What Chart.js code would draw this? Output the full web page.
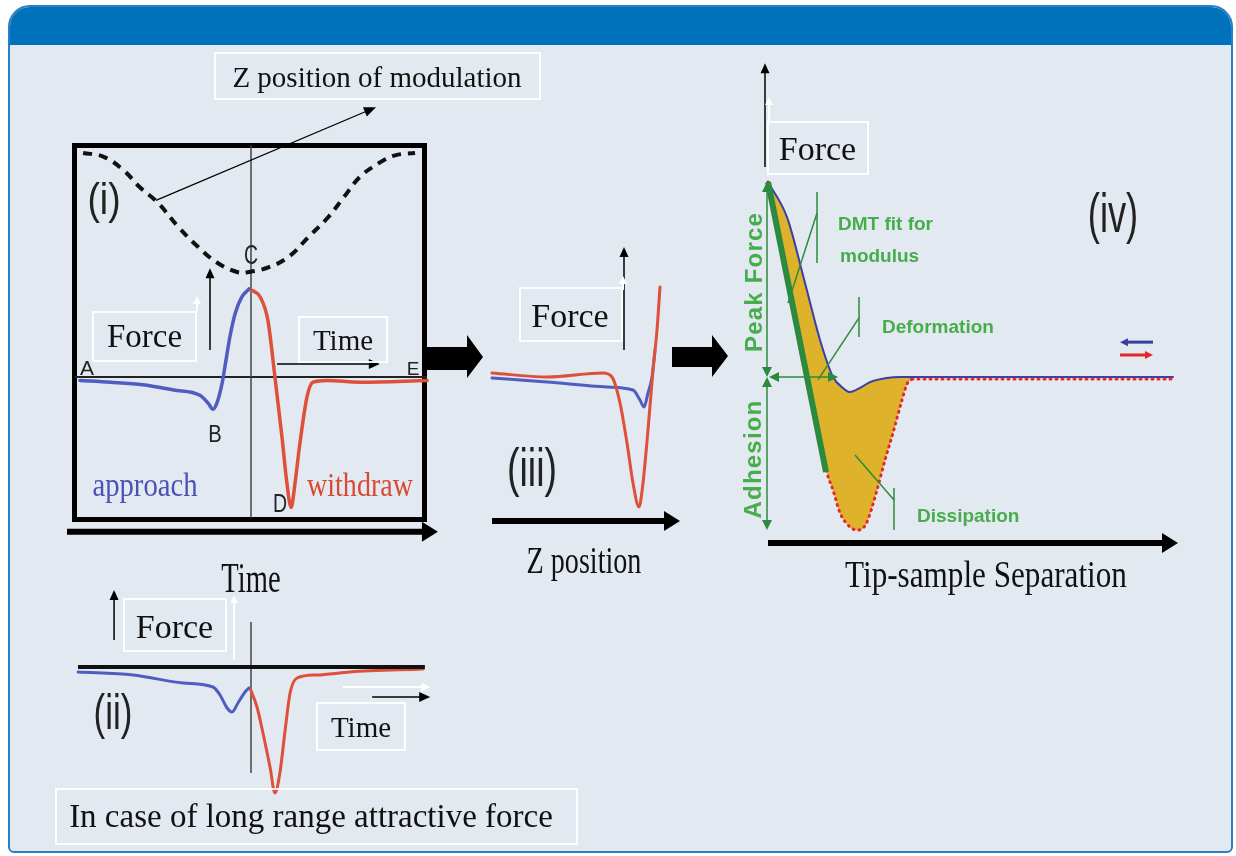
<!DOCTYPE html>
<html>
<head>
<meta charset="utf-8">
<script src="https://cdn.jsdelivr.net/npm/chart.js"></script>
<style>
  html, body { margin: 0; padding: 0; background: #fff; }
  body { width: 1236px; height: 856px; position: relative; overflow: hidden; }
  .card { position: absolute; left: 8px; top: 5px; width: 1225px; height: 848px; box-sizing: border-box;
          border: 2px solid #2b7fc4; border-radius: 22px 22px 6px 6px; background: #e3e9f0; overflow: hidden; }
  .card .head { height: 38px; background: #0071bb; }
  canvas { position: absolute; }
  .frame { position: absolute; left: 72px; top: 143px; width: 355px; height: 379px; box-sizing: border-box; border: 5px solid #000; }
  .box { position: absolute; box-sizing: border-box; border: 2px solid rgba(255,255,255,0.92); }
  .lbl { position: absolute; white-space: nowrap; line-height: 1; z-index: 5; }
  svg.blocks { position: absolute; left: 0; top: 0; }
</style>
</head>
<body>
<div class="card"><div class="head"></div></div>
<div class="frame"></div>
<canvas id="cycle" width="385" height="450" style="left:60px;top:95px"></canvas>
<canvas id="longRange" width="385" height="230" style="left:60px;top:580px"></canvas>
<canvas id="zCurve" width="230" height="300" style="left:470px;top:235px"></canvas>
<canvas id="separation" width="460" height="515" style="left:740px;top:45px"></canvas>
<svg class="blocks" width="1236" height="856">
  <polygon points="427,347 467,347 467,335 483,357 467,378 467,370 427,370" fill="#000"/>
  <polygon points="672,347 712,347 712,335 728,356 712,377 712,367 672,367" fill="#000"/>
</svg>
<script>
// (i) tapping cycle vs time: Z modulation and force
const zModTime = [2.3, 8.0, 13.6, 18.5, 23.6, 29.3, 35.0, 40.3, 46.0, 49.4, 55.1, 60.8, 66.2, 71.9, 76.4, 81.0, 86.6, 90.9, 96.6];
const zModPos  = [1.0, 0.97, 0.86, 0.71, 0.58, 0.38, 0.21, 0.08, 0.0, 0.0, 0.04, 0.13, 0.29, 0.46, 0.63, 0.80, 0.92, 0.98, 1.0];
const approachTime  = [1.4, 10, 19.3, 28, 35.5, 37.8, 39.2, 40.3, 41.8, 42.6, 44, 45.5, 47.4, 49.4];
const approachForce = [-0.04, -0.06, -0.09, -0.15, -0.21, -0.30, -0.37, -0.30, -0.07, 0.12, 0.46, 0.73, 0.92, 1.01];
const withdrawTime  = [49.4, 51.0, 52.6, 54.8, 56.8, 58.8, 60.2, 61.4, 62.5, 63.9, 65.9, 67.6, 71.6, 81, 100];
const withdrawForce = [1.01, 0.98, 0.92, 0.65, 0, -0.69, -1.22, -1.5, -1.22, -0.76, -0.23, -0.06, -0.04, -0.06, -0.04];

// (ii) long range attractive force
const lrApproachTime  = [0.9, 16.5, 30.7, 39.2, 41.2, 43.2, 44.6, 46.3, 48.3, 49.4];
const lrApproachForce = [-0.05, -0.08, -0.16, -0.20, -0.28, -0.41, -0.45, -0.36, -0.25, -0.21];
const lrWithdrawTime  = [49.7, 51.7, 53.4, 55.4, 56.8, 58.2, 59.7, 61.1, 63.1, 68.8, 78.1, 98.9];
const lrWithdrawForce = [-0.21, -0.40, -0.66, -1.0, -1.26, -1.06, -0.63, -0.26, -0.11, -0.08, -0.05, -0.02];

// (iii) force vs Z position
const zApproachPos   = [6, 33.5, 63.5, 76.5, 80, 82, 84, 86, 87.5];
const zApproachForce = [-0.01, -0.05, -0.10, -0.13, -0.23, -0.30, -0.16, 0.0, 0.27];
const zWithdrawPos   = [6, 33.5, 61.5, 66, 70, 73.5, 76.5, 79.5, 81.5, 84, 86.5, 88.5, 90];
const zWithdrawForce = [0.04, 0, 0.04, 0, -0.26, -0.66, -1.06, -1.30, -1.06, -0.53, 0.07, 0.47, 0.90];

// (iv) force vs tip-sample separation
const sepApproach      = [0, 1.9, 3.7, 5.2, 6.5, 7.5, 8.2, 9.2, 10.2, 11.9, 13.2, 40.5];
const sepApproachForce = [10, 8.2, 4.82, 1.9, 0, -0.56, -0.77, -0.56, -0.26, -0.05, 0, 0];
const sepWithdraw      = [0, 5.9, 6.5, 7.2, 8.2, 8.9, 9.8, 10.9, 11.7, 12.5, 13.4, 13.9, 14.4];
const sepWithdrawForce = [10, -4.92, -5.8, -6.97, -7.69, -7.85, -7.54, -5.8, -4.26, -2.87, -1.18, -0.36, -0.1];
const sepTail      = [14.4, 40.5];
const sepTailForce = [-0.1, -0.1];
const dmtSep   = [0, 5.8];
const dmtForce = [10, -4.87];

const blue = '#4f5cc0', red = '#de5039', green = '#2c8a3e', labelGreen = '#47ad4c';

function pts(xs, ys) { return xs.map((x, i) => ({ x: x, y: ys[i] })); }

function arrowHead(ctx, tx, ty, ux, uy, hl, hw) {
  ctx.beginPath();
  ctx.moveTo(tx, ty);
  ctx.lineTo(tx - ux * hl - uy * hw, ty - uy * hl + ux * hw);
  ctx.lineTo(tx - ux * hl + uy * hw, ty - uy * hl - ux * hw);
  ctx.closePath();
  ctx.fill();
}

function drawLines(chart, under) {
  const lines = chart.options.plugins.deco.lines || [];
  const ctx = chart.ctx;
  lines.forEach(l => {
    if (!!l.under !== under) return;
    const ys = chart.scales[l.axis || 'y'];
    const x1 = chart.scales.x.getPixelForValue(l.from[0]), y1 = ys.getPixelForValue(l.from[1]);
    const x2 = chart.scales.x.getPixelForValue(l.to[0]), y2 = ys.getPixelForValue(l.to[1]);
    const len = Math.hypot(x2 - x1, y2 - y1), ux = (x2 - x1) / len, uy = (y2 - y1) / len;
    const hl = l.hl || 10, hw = l.hw || 4.5, head = l.head || '';
    let sx = x1, sy = y1, ex = x2, ey = y2;
    if (head === 'end' || head === 'both') { ex -= ux * hl * 0.7; ey -= uy * hl * 0.7; }
    if (head === 'both') { sx += ux * hl * 0.7; sy += uy * hl * 0.7; }
    ctx.save();
    ctx.strokeStyle = l.color || '#000';
    ctx.fillStyle = l.color || '#000';
    ctx.lineWidth = l.width || 1.5;
    ctx.beginPath();
    ctx.moveTo(sx, sy);
    ctx.lineTo(ex, ey);
    ctx.stroke();
    if (head === 'end' || head === 'both') arrowHead(ctx, x2, y2, ux, uy, hl, hw);
    if (head === 'both') arrowHead(ctx, x1, y1, -ux, -uy, hl, hw);
    ctx.restore();
  });
}

// axis arrows, guide lines and leaders, positioned in data units
Chart.register({
  id: 'deco',
  defaults: { lines: [] },
  beforeDatasetsDraw(chart) { drawLines(chart, true); },
  afterDatasetsDraw(chart) { drawLines(chart, false); }
});

function panelOptions(xRange, yAxes, lines) {
  const scales = { x: { type: 'linear', min: xRange[0], max: xRange[1], display: false } };
  Object.keys(yAxes).forEach(id => {
    scales[id] = { type: 'linear', min: yAxes[id][0], max: yAxes[id][1], display: false };
  });
  return {
    responsive: false,
    animation: false,
    events: [],
    layout: { padding: 0 },
    plugins: { legend: { display: false }, tooltip: { enabled: false }, deco: { lines: lines } },
    scales: scales,
    elements: {
      point: { radius: 0 },
      line: { cubicInterpolationMode: 'monotone', borderJoinStyle: 'round', borderCapStyle: 'round' }
    }
  };
}

function curve(data, color, width, extra) {
  return Object.assign({ data: data, borderColor: color, borderWidth: width, fill: false, clip: false }, extra || {});
}

// (i)
new Chart(document.getElementById('cycle'), {
  type: 'line',
  data: { datasets: [
    curve(pts(zModTime, zModPos), '#111', 4, { yAxisID: 'z', borderDash: [9, 7], borderCapStyle: 'butt', tension: 0.4, cubicInterpolationMode: 'default' }),
    curve(pts(approachTime, approachForce), blue, 3.5),
    curve(pts(withdrawTime, withdrawForce), red, 3.5)
  ] },
  options: panelOptions([-4.26, 105.11], { y: [-1.931, 3.241], z: [-2.294, 1.487] }, [
    { from: [0, 0], to: [100, 0], width: 2, color: '#222', under: true },
    { from: [50, 2.667], to: [50, -1.62], width: 1.5, color: '#444', under: true },
    { from: [-2.27, -1.78], to: [103.1, -1.78], width: 6, head: 'end', hl: 16, hw: 10 },
    { from: [38.35, 0.31], to: [38.35, 1.25], width: 1.5, head: 'end' },
    { from: [34.66, 0.76], to: [34.66, 0.93], width: 2, color: '#fff', head: 'end', hl: 8, hw: 4 },
    { from: [57.4, 0.15], to: [86.6, 0.15], width: 1.5, head: 'end', hl: 11, hw: 5 },
    { from: [23.0, 2.03], to: [85.5, 3.10], width: 1.2, head: 'end', hl: 12, hw: 5 }
  ])
});

// (ii)
new Chart(document.getElementById('longRange'), {
  type: 'line',
  data: { datasets: [
    curve(pts(lrApproachTime, lrApproachForce), blue, 3),
    curve(pts(lrWithdrawTime, lrWithdrawForce), red, 3)
  ] },
  options: panelOptions([-4.26, 105.11], { y: [-1.43, 0.87] }, [
    { from: [50, 0.45], to: [50, -1.06], width: 1.5, color: '#444', under: true },
    { from: [0.85, 0], to: [99.4, 0], width: 4, color: '#111' },
    { from: [11.1, 0.27], to: [11.1, 0.77], width: 1.5, head: 'end' },
    { from: [45.2, 0.07], to: [45.2, 0.72], width: 2, color: '#fff', head: 'end', hl: 8, hw: 4 },
    { from: [76.1, -0.2], to: [100.9, -0.2], width: 2, color: '#fff', head: 'end', hl: 9, hw: 4.5 },
    { from: [84.4, -0.3], to: [100.9, -0.3], width: 1.5, head: 'end', hl: 11, hw: 5 }
  ])
});

// (iii)
new Chart(document.getElementById('zCurve'), {
  type: 'line',
  data: { datasets: [
    curve(pts(zWithdrawPos, zWithdrawForce), red, 3),
    curve(pts(zApproachPos, zApproachForce), blue, 3)
  ] },
  options: panelOptions([-5, 110], { y: [-1.58, 1.42] }, [
    { from: [72, 0.27], to: [72, 1.30], width: 1.5, head: 'end' },
    { from: [71.5, 0.87], to: [71.5, 1.01], width: 2, color: '#fff', head: 'end', hl: 8, hw: 4 },
    { from: [6, -1.44], to: [100, -1.44], width: 6, head: 'end', hl: 16, hw: 10 }
  ])
});

// (iv)
new Chart(document.getElementById('separation'), {
  type: 'line',
  data: { datasets: [
    curve(pts(sepApproach, sepApproachForce), '#3b3fa3', 2, { order: 3 }),
    curve(pts(sepWithdraw, sepWithdrawForce), '#e5272b', 3, { order: 4, fill: '-1', backgroundColor: '#dfb22c', borderDash: [1, 5], borderCapStyle: 'round' }),
    curve(pts(sepTail, sepTailForce), '#e5272b', 3, { order: 2, borderDash: [1, 5], borderCapStyle: 'round' }),
    curve(pts(dmtSep, dmtForce), green, 6, { order: 0, borderCapStyle: 'butt' })
  ] },
  options: panelOptions([-2.8, 43.2], { y: [-9.385, 17.03] }, [
    { from: [-0.3, 10.77], to: [-0.3, 16.1], width: 1.5, head: 'end' },
    { from: [0.1, 13.13], to: [0.1, 14.36], width: 2, color: '#fff', head: 'end', hl: 8, hw: 4 },
    { from: [0, -8.51], to: [41, -8.51], width: 6, head: 'end', hl: 16, hw: 10 },
    { from: [-0.1, 0], to: [-0.1, 10], width: 1.5, color: green, head: 'both', hl: 10, hw: 5 },
    { from: [-0.1, 0], to: [-0.1, -7.85], width: 1.5, color: green, head: 'both', hl: 10, hw: 5 },
    { from: [0.1, 0], to: [7.0, 0], width: 1.5, color: green, head: 'both', hl: 10, hw: 5 },
    { from: [4.9, 9.49], to: [4.9, 5.85], width: 1.5, color: green },
    { from: [4.9, 8.41], to: [2.0, 3.79], width: 1.5, color: green },
    { from: [9.1, 4.10], to: [9.1, 2.05], width: 1.5, color: green },
    { from: [9.1, 3.03], to: [5.0, -0.15], width: 1.5, color: green },
    { from: [12.6, -5.69], to: [12.6, -7.85], width: 1.5, color: green },
    { from: [12.6, -6.31], to: [8.7, -4.0], width: 1.5, color: green },
    { from: [38.5, 1.79], to: [35.2, 1.79], width: 3, color: '#3b3fa3', head: 'end', hl: 8, hw: 4 },
    { from: [35.2, 1.13], to: [38.5, 1.13], width: 3, color: '#e5272b', head: 'end', hl: 8, hw: 4 }
  ])
});

// text
const SERIF = '"Liberation Serif", "Times New Roman", serif';
const SANS = '"Liberation Sans", Arial, sans-serif';

function box(x, y, w, h) {
  const d = document.createElement('div');
  d.className = 'box';
  Object.assign(d.style, { left: x + 'px', top: y + 'px', width: w + 'px', height: h + 'px' });
  document.body.appendChild(d);
}

function label(text, x, base, size, o) {
  o = o || {};
  const serif = o.font !== 'sans';
  const d = document.createElement('div');
  d.className = 'lbl';
  d.textContent = text;
  const asc = serif ? 0.8375 : 0.8465;
  Object.assign(d.style, {
    fontFamily: serif ? SERIF : SANS,
    fontSize: size + 'px',
    fontWeight: o.bold ? 'bold' : 'normal',
    color: o.color || '#111',
    letterSpacing: (o.spacing || 0) + 'px',
    left: x + 'px',
    top: (base - asc * size) + 'px'
  });
  const sx = o.scale || 1;
  if (o.rotate) {
    d.style.top = base + 'px';
    d.style.transform = 'translate(-50%, -50%) rotate(-90deg)';
  } else if (o.align === 'left') {
    d.style.transformOrigin = '0 0';
    d.style.transform = 'scaleX(' + sx + ')';
  } else {
    d.style.transform = 'translateX(-50%) scaleX(' + sx + ')';
  }
  document.body.appendChild(d);
}

box(214, 52, 327, 48);  label('Z position of modulation', 377, 87, 29);
label('(i)', 104, 214, 44, { font: 'sans', scale: 0.85, color: '#222' });
label('C', 251, 265, 27, { font: 'sans', scale: 0.72, color: '#222' });
box(92, 311, 105, 51);  label('Force', 144.5, 348, 33);
box(298, 316, 90, 47);  label('Time', 343, 350, 29);
label('A', 87, 375, 21, { font: 'sans', color: '#222' });
label('E', 413, 375, 19, { font: 'sans', color: '#222' });
label('B', 215, 442, 23, { font: 'sans', scale: 0.88, color: '#222' });
label('D', 280, 512, 26, { font: 'sans', scale: 0.75, color: '#222' });
label('approach', 145, 497, 33, { scale: 0.87, color: '#4b52b5' });
label('withdraw', 360, 497, 33, { scale: 0.85, color: '#d84a33' });
label('Time', 251, 592, 42, { scale: 0.68 });

box(519, 287, 104, 55); label('Force', 570, 327, 34);
label('(iii)', 532, 486, 53, { font: 'sans', scale: 0.71, color: '#222' });
label('Z position', 584, 573, 38, { scale: 0.74 });

box(123, 598, 104, 54); label('Force', 174.5, 638, 34);
label('(ii)', 113, 729, 50, { font: 'sans', scale: 0.7, color: '#222' });
box(316, 702, 90, 49);  label('Time', 361, 737, 29);
box(55, 788, 523, 57);  label('In case of long range attractive force', 311, 828, 33);

box(767, 121, 102, 54); label('Force', 817.5, 160, 34);
label('(iv)', 1113, 233, 55, { font: 'sans', scale: 0.66, color: '#222' });
label('DMT fit for', 838, 230, 19, { font: 'sans', bold: true, align: 'left', color: labelGreen });
label('modulus', 840, 262, 19, { font: 'sans', bold: true, align: 'left', color: labelGreen });
label('Deformation', 882, 333, 19, { font: 'sans', bold: true, align: 'left', color: labelGreen });
label('Dissipation', 917, 522, 19, { font: 'sans', bold: true, align: 'left', color: labelGreen });
label('Peak Force', 753.5, 281.5, 24, { font: 'sans', bold: true, spacing: 1.2, rotate: true, color: labelGreen });
label('Adhesion', 752.5, 459, 24, { font: 'sans', bold: true, spacing: 1.2, rotate: true, color: labelGreen });
label('Tip-sample Separation', 986, 587, 38, { scale: 0.82 });
</script>
</body>
</html>
